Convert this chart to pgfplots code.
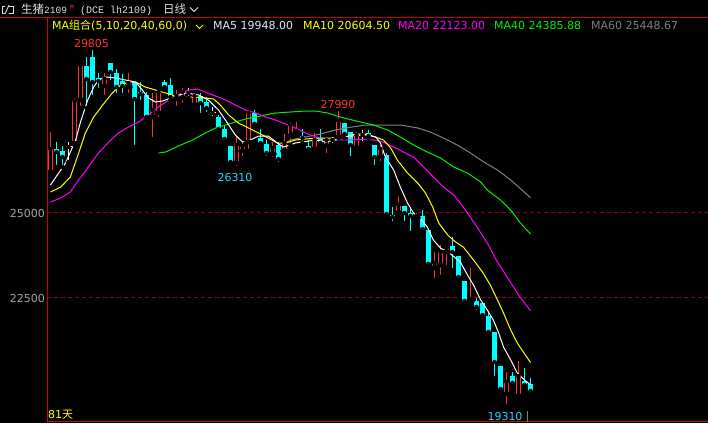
\documentclass[border=0pt]{standalone}
\usepackage{pgfplots}
\pgfplotsset{compat=1.18}
\usepackage{pgfplotstable}
\usepackage{fontspec}
\setmainfont{DejaVu Sans}
\newfontfamily\cjk{Noto Sans CJK SC}
\newfontfamily\mono{Liberation Mono}
\definecolor{kred}{RGB}{255,50,50}
\definecolor{kcyan}{RGB}{0,255,255}
\definecolor{axred}{RGB}{200,0,0}
\definecolor{gridred}{RGB}{150,0,0}
\definecolor{tickgray}{RGB}{165,165,175}
\definecolor{ma5}{RGB}{255,255,255}
\definecolor{ma5t}{RGB}{215,235,255}
\definecolor{ma10}{RGB}{255,255,0}
\definecolor{ma20}{RGB}{255,0,255}
\definecolor{ma40}{RGB}{0,240,0}
\definecolor{ma60}{RGB}{128,128,128}
\definecolor{labcyan}{RGB}{40,215,255}
\definecolor{hdr}{RGB}{225,225,225}

\pgfplotstableread{
i o h l c
0 26205 27382 26205 26882
4 27058 28382 27000 28294
5 28323 29411 28088 29352
9 28735 29117 28411 28941
13 28705 29117 28470 28823
17 27823 28529 27176 28029
18 27941 28617 27764 28558
21 28352 28617 28088 28441
22 28382 28676 28176 28558
24 28176 28529 28117 28441
31 26470 27235 26310 27000
32 26823 27088 26617 26970
33 27088 27970 26823 27941
37 26735 27088 26588 26911
39 26823 27323 26794 27058
40 27264 27676 27000 27588
41 27352 27676 27294 27411
44 26882 27352 26764 27147
46 26970 27205 26705 27147
48 27235 27990 27205 27705
51 26911 27382 26852 27294
55 26647 27058 26470 26882
58 25000 25470 24970 25235
61 24853 25000 24764 24911
64 23382 23853 23029 23529
65 23470 24059 23118 23853
66 23853 24029 23412 23970
70 22412 23382 22382 22470
76 19676 20323 19310 20029
78 19618 20647 19559 20206
}\up

\pgfplotstableread{
i o h l c
1 26882 27088 26353 26794
2 26823 26970 26353 26647
6 29323 29588 28088 28941
7 29588 29805 28411 28852
8 28970 29117 28617 28882
10 29411 29411 28852 29146
11 29117 29235 28470 28705
12 28882 29088 28470 28735
14 28852 28852 26941 28352
15 28558 28852 28264 28499
16 28470 28558 27794 27823
19 28852 28911 28617 28705
20 28764 28970 28323 28411
25 28441 28529 27882 28235
26 28264 28411 27911 28088
28 27823 27882 27441 27470
29 27470 27588 27176 27176
30 26970 26970 26470 26500
34 27941 28029 27617 27617
35 27205 27470 27029 27058
36 27029 27147 26617 26764
38 27000 27088 26441 26588
42 27264 27470 27058 27205
43 26970 27147 26764 26882
45 27176 27470 27058 27058
49 27647 27647 27205 27323
50 27382 27382 26617 27000
53 27352 27441 27205 27264
54 27000 27000 26353 26647
56 26705 26764 24941 24970
57 24941 25176 24706 24882
59 25206 25206 24706 25000
60 25000 25117 24411 24911
62 24911 25088 24500 24529
63 24500 24500 23500 23500
67 24029 24294 23323 23853
68 23735 23735 23088 23118
69 23000 23000 22382 22412
71 22412 22500 22088 22235
72 22353 22353 21970 22000
73 21970 22088 21441 21500
74 21500 21500 20147 20618
75 20500 20500 19794 19824
77 20206 20323 19941 20000
79 20059 20441 19912 19941
80 19971 20147 19735 19765
}\down

\pgfplotstableread{
i o h l c
3 26941 27088 26500 26941
23 28529 28676 28382 28529
27 27941 28117 27794 27941
47 27147 27235 27000 27147
52 27294 27441 27058 27294
}\doji

\pgfplotsset{
  candlev/.style 2 args={only marks, mark=none, error bars/.cd, y dir=plus, y explicit, error mark=none, error bar style={draw=#1, line width=#2}},
  candleh/.style 2 args={only marks, mark=none, error bars/.cd, x dir=both, x fixed=#2, error mark=none, error bar style={draw=#1, line width=1pt}},
}

\begin{document}
\begin{tikzpicture}
\fill[black] (0pt,0pt) rectangle (708pt,423pt);
\useasboundingbox (0pt,0pt) rectangle (708pt,423pt);

\begin{axis}[
  at={(47pt,1pt)}, anchor=south west,
  scale only axis, width=661pt, height=404pt,
  xmin=-0.5833, xmax=109.5833, ymin=18853, ymax=30735,
  axis line style={draw=none},
  xtick=\empty,
  ytick={22500,25000}, yticklabels={22500,25000},
  scaled y ticks=false, scaled x ticks=false,
  major tick length=0pt,
  yticklabel style={text=tickgray, font=\fontsize{11}{13}\selectfont, inner sep=2pt},
  ymajorgrids, grid style={gridred, dash pattern=on 4pt off 3pt, line width=1pt},
]
% wicks
\addplot[candlev={kcyan}{1pt}] table[x=i, y=l, y error plus expr=\thisrow{h}-\thisrow{l}] {\down};
\addplot[candlev={kred}{1pt}] table[x=i, y=l, y error plus expr=\thisrow{h}-\thisrow{l}] {\up};
\addplot[candlev={white}{1pt}] table[x=i, y=l, y error plus expr=\thisrow{h}-\thisrow{l}] {\doji};
% down bodies
\addplot[candlev={kcyan}{5pt}] table[x=i, y=c, y error plus expr=\thisrow{o}-\thisrow{c}] {\down};
% up bodies (hollow)
\addplot[candlev={black}{3pt}] table[x=i, y=o, y error plus expr=\thisrow{c}-\thisrow{o}] {\up};
\addplot[candlev={kred}{1pt}] table[x expr=\thisrow{i}-0.3333, y=o, y error plus expr=\thisrow{c}-\thisrow{o}] {\up};
\addplot[candlev={kred}{1pt}] table[x expr=\thisrow{i}+0.3333, y=o, y error plus expr=\thisrow{c}-\thisrow{o}] {\up};
\addplot[candleh={kred}{0.4167}] table[x=i, y=o] {\up};
\addplot[candleh={kred}{0.4167}] table[x=i, y=c] {\up};
% doji
\addplot[candleh={white}{0.5}] table[x=i, y=o] {\doji};

% moving averages
\addplot[ma60, line width=1pt, mark=none] coordinates {(39,27029) (40,27147) (42.5,27235) (45,27323) (47.5,27441) (49.2,27500) (52.5,27588) (55,27588) (58.3,27588) (61.2,27500) (63.3,27382) (65.5,27205) (67.8,27000) (70,26764) (72.2,26500) (74.5,26264) (76.7,25970) (78.2,25735) (80,25449)};
\addplot[ma40, line width=1pt, mark=none] coordinates {(18,26764) (19.2,26794) (21.3,26970) (23.7,27147) (25.8,27352) (27.5,27500) (29.2,27588) (30.8,27676) (32.5,27764) (34.2,27823) (35.8,27882) (37.5,27941) (40,27970) (42.5,27999) (44.2,27999) (46.2,27941) (48.3,27823) (50.3,27735) (51.7,27676) (53.8,27588) (56.2,27441) (58.3,27235) (60.5,27000) (62.8,26794) (65,26617) (67.2,26353) (69.5,26176) (71.7,25911) (72.8,25676) (75,25382) (76.7,25088) (78.3,24706) (80,24386)};
\addplot[ma20, line width=1pt, mark=none] coordinates {(0,25323) (1.7,25441) (3.3,25617) (4.7,25970) (6.3,26353) (8,26764) (9.7,27088) (11.3,27352) (13,27529) (14.7,27676) (16.3,27882) (18,28117) (19.7,28323) (21.3,28470) (23,28617) (24.5,28647) (25.8,28558) (27.5,28441) (29.2,28323) (30.8,28176) (32.5,28029) (34.2,27941) (35.8,27823) (37.5,27735) (39.2,27617) (40.8,27500) (42.5,27352) (44.7,27205) (47.5,27147) (50.3,27147) (52.5,27176) (55,27117) (57.2,26941) (58.8,26794) (60.5,26647) (62.2,26353) (63.8,26058) (65.5,25764) (67.2,25529) (68.3,25294) (69.5,25000) (71.2,24559) (72.8,24117) (74.5,23559) (76.2,23088) (78,22588) (80,22123)};
\addplot[ma10, line width=1pt, mark=none] coordinates {(0,25617) (1.7,25764) (3.3,26058) (4.7,26764) (5.8,27352) (7.2,27823) (8.7,28176) (10.3,28529) (11.7,28764) (13,28852) (14.2,28852) (15.8,28705) (17.5,28617) (19.2,28529) (21.3,28411) (23.7,28411) (25.8,28382) (27.2,28352) (28.3,28176) (29.7,27882) (31.3,27647) (33,27500) (34.7,27352) (36.3,27205) (37.8,27058) (39.2,27058) (40.8,27147) (42.5,27176) (44.7,27205) (47,27205) (48.7,27235) (50.3,27264) (52.5,27294) (54.2,27235) (55.5,27147) (56.7,26911) (57.8,26558) (59.5,26176) (61.2,25882) (62.5,25588) (63.7,25176) (64.7,24706) (66.2,24353) (67.5,24147) (68.8,24000) (70.5,23617) (72,23264) (73.3,22882) (74.5,22441) (75.5,22059) (76.7,21559) (77.8,21176) (78.8,20912) (80,20604)};
\addplot[ma5, line width=1pt, mark=none] coordinates {(0,25823) (2.5,26470) (4.2,27147) (5,27676) (6.2,28323) (7.2,28705) (8,28911) (9.2,28999) (10.8,28970) (12.5,28911) (14.2,28852) (15.3,28617) (16.3,28382) (17.5,28264) (18.7,28294) (20,28382) (22.5,28529) (24.7,28470) (26.3,28323) (28,28029) (29.5,27647) (30.8,27294) (32,27088) (33.3,27147) (34.7,27264) (36.3,27264) (37.8,27058) (38.8,26941) (40,27000) (40.8,27058) (44.2,27147) (45.8,27088) (47.5,27147) (49.2,27235) (50.8,27323) (52.5,27323) (54.2,27235) (55,27058) (55.8,26647) (57.2,26264) (58.3,25764) (59.5,25294) (60.5,25000) (61.7,24823) (62.8,24588) (63.8,24206) (65,23970) (66.7,23794) (68.3,23559) (69.5,23176) (70.5,22882) (71.7,22441) (72.8,22147) (73.8,21853) (74.7,21470) (75.5,21059) (76.7,20676) (77.8,20294) (79,20088) (80,19948)};
\end{axis}

% frame lines
\draw[axred, line width=1pt] (0pt,405.5pt) -- (708pt,405.5pt);
\draw[axred, line width=1pt] (47.5pt,405.5pt) -- (47.5pt,0pt);
\draw[axred, line width=1pt] (47pt,1.5pt) -- (708pt,1.5pt);

% header row 1
\draw[hdr, line width=0.9pt] (5pt,417pt) -- (2pt,417pt) -- (2pt,410pt) -- (5pt,410pt);
\draw[hdr, line width=0.9pt] (5pt,409pt) -- (9pt,418pt);
\draw[hdr, line width=0.9pt] (9pt,417pt) -- (13pt,417pt) -- (13pt,410pt) -- (9pt,410pt);
\node[anchor=base west, inner sep=0pt, text=hdr] at (21pt,409.5pt) {\cjk\fontsize{11.5}{13}\selectfont 生猪\mono\fontsize{9.5}{12}\selectfont 2109};
\node[anchor=base west, inner sep=0pt, text=kred] at (70pt,413.5pt) {\mono\fontsize{6.5}{8}\selectfont M};
\node[anchor=base west, inner sep=0pt, text=hdr] at (80pt,409.5pt) {\mono\fontsize{10}{12}\selectfont (DCE lh2109)};
\node[anchor=base west, inner sep=0pt, text=hdr] at (163pt,409.5pt) {\cjk\fontsize{11.5}{13}\selectfont 日线};
\draw[hdr, line width=1pt] (190pt,415.5pt) -- (194pt,411.5pt) -- (198pt,415.5pt);

% header row 2
\begin{scope}[every node/.style={font=\fontsize{11}{13}\selectfont, anchor=base west, inner sep=0pt}]
\node[text=ma10] at (52pt,393.5pt) {MA{\cjk 组合}(5,10,20,40,60,0)};
\node[text=ma5t] at (213pt,393.5pt) {MA5 19948.00};
\node[text=ma10] at (303pt,393.5pt) {MA10 20604.50};
\node[text=ma20] at (398pt,393.5pt) {MA20 22123.00};
\node[text=ma40] at (494pt,393.5pt) {MA40 24385.88};
\node[text=ma60] at (591pt,393.5pt) {MA60 25448.67};
\node[text=ma10] at (48pt,5pt) {81{\cjk 天}};
\end{scope}
\draw[ma10, line width=1pt] (196pt,398pt) -- (199.5pt,394.5pt) -- (203pt,398pt);

% annotations
\begin{scope}[every node/.style={font=\fontsize{11}{13}\selectfont, anchor=base, inner sep=0pt}]
\node[text=kred] at (91.5pt,375pt) {29805};
\node[text=kred] at (338pt,314pt) {27990};
\node[text=labcyan] at (235pt,241pt) {26310};
\node[text=labcyan] at (505pt,3pt) {19310};
\end{scope}
\draw[ma60, line width=1pt] (527.5pt,1pt) -- (527.5pt,12pt);
\end{tikzpicture}
\end{document}
